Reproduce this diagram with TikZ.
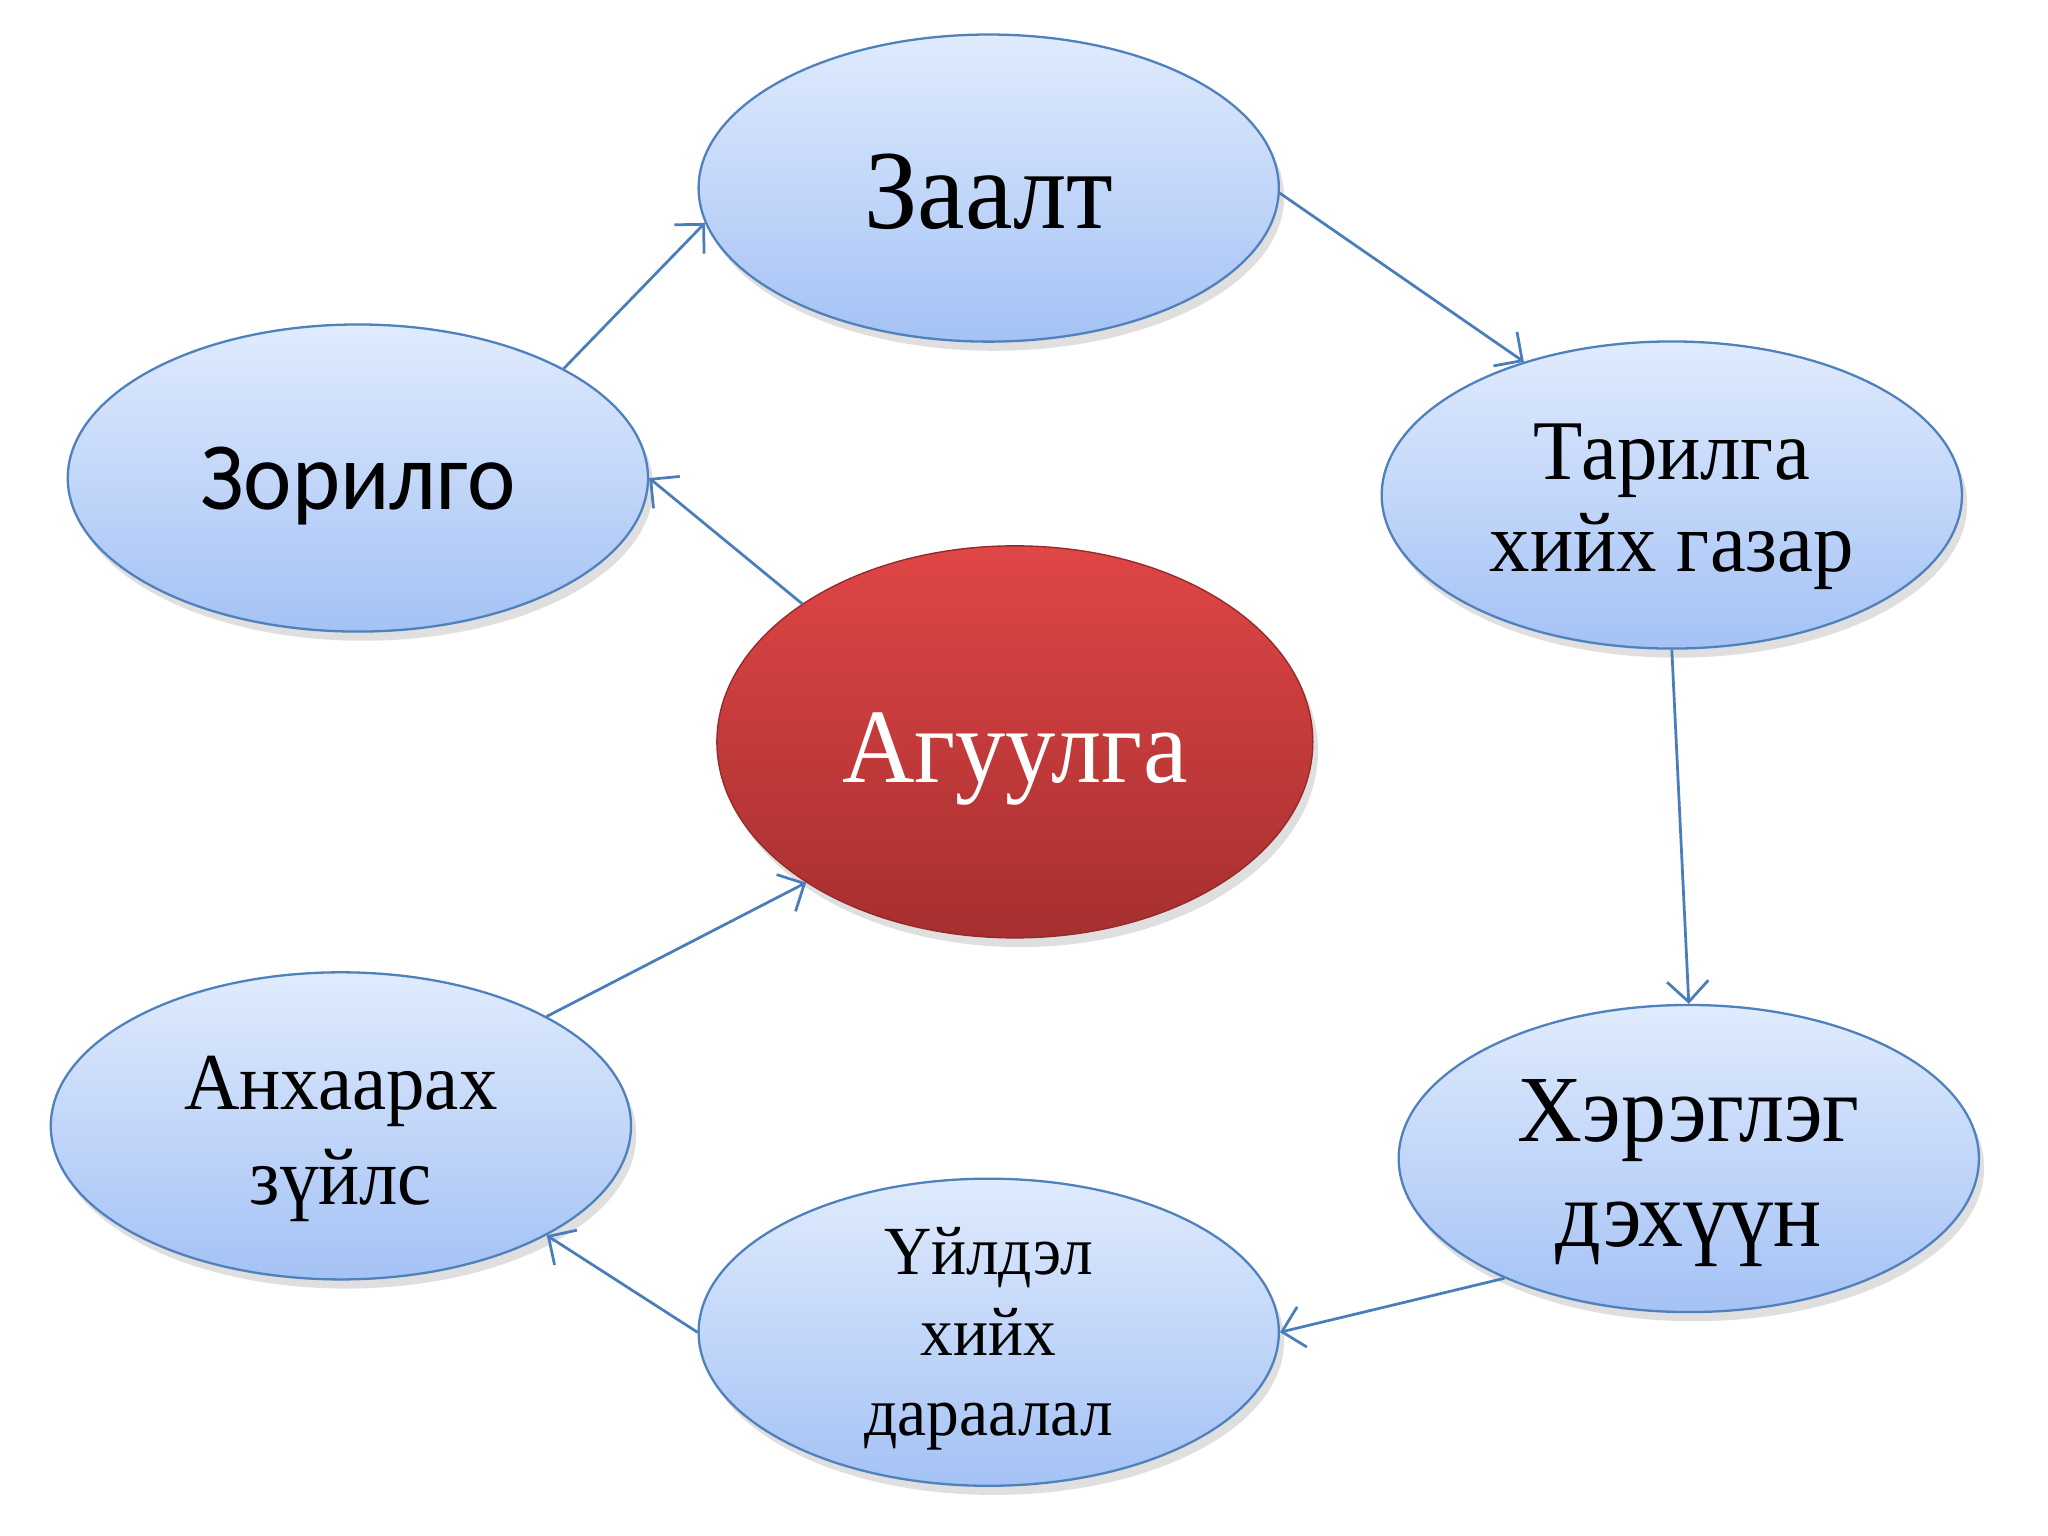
\documentclass[tikz,border=0pt]{standalone}
\usepackage{fontspec}
\setmainfont{Liberation Serif}[FakeStretch=0.95]
\newfontfamily\calibfont{Carlito}[FakeStretch=0.95]
\usetikzlibrary{shapes.geometric,arrows.meta,shadows}
\definecolor{bordblue}{HTML}{4F81BD}
\definecolor{topblue}{HTML}{E0EBFD}
\definecolor{botblue}{HTML}{A4C2F5}
\definecolor{arrblue}{HTML}{4A7EBB}
\definecolor{topred}{HTML}{E04646}
\definecolor{botred}{HTML}{A62F2F}
\tikzset{
  bluebub/.style={ellipse, inner sep=0pt, minimum width=4.44cm, minimum height=2.35cm,
    draw=bordblue, line width=0.5pt, top color=topblue, bottom color=botblue,
    drop shadow={opacity=0.25, shadow xshift=0.04cm, shadow yshift=-0.07cm}},
  redbub/.style={ellipse, inner sep=0pt, minimum width=4.56cm, minimum height=3.0cm,
    draw=botred!90!black, line width=0.3pt, top color=topred, bottom color=botred,
    drop shadow={opacity=0.25, shadow xshift=0.04cm, shadow yshift=-0.07cm}},
  bubtext/.style={inner sep=0pt, align=center, text=black},
  conn/.style={draw=arrblue, line width=0.6pt, -{Straight Barb[length=4.5pt,width=9pt]}}
}
\begin{document}
\begin{tikzpicture}[x=0.01cm,y=-0.01cm]
\fill[white] (0,0) rectangle (1568,1176);
\useasboundingbox (0,0) rectangle (1568,1176);
\node[bluebub] (zaa) at (757,144) {};
\node[bluebub] (zor) at (274,366) {};
\node[bluebub] (tar) at (1280,379) {};
\node[redbub] (agu) at (777,568) {};
\node[bluebub] (her) at (1293,887) {};
\node[bluebub] (uil) at (757,1020) {};
\node[bluebub] (anh) at (261,862) {};
\node[bubtext, font=\fontsize{24.5}{28}\selectfont] (zaat) at ([yshift=-0.03cm]zaa.center) {Заалт};
\node[bubtext, font=\calibfont\fontsize{21}{24}\selectfont] (zort) at ([yshift=-0.06cm]zor.center) {Зорилго};
\node[bubtext, font=\fontsize{18.5}{20}\selectfont] (tart) at ([yshift=-0.09cm]tar.center) {Тарилга\\хийх газар};
\node[bubtext, text=white, font=\fontsize{23}{26}\selectfont] (agut) at ([yshift=-0.13cm]agu.center) {Агуулга};
\node[bubtext, font=\fontsize{20.6}{22.8}\selectfont] (hert) at ([yshift=-0.11cm]her.center) {Хэрэглэг\\дэхүүн};
\node[bubtext, font=\fontsize{15}{17.6}\selectfont] (uilt) at ([yshift=-0.05cm]uil.center) {Үйлдэл\\хийх\\дараалал};
\node[bubtext, font=\fontsize{17.6}{20.5}\selectfont] (anht) at ([yshift=-0.10cm]anh.center) {Анхаарах\\зүйлс};
\draw[conn] (agu.147) -- (zor.east);
\draw[conn] (zor.28) -- (zaa.187);
\draw[conn] (zaa.359) -- (tar.138);
\draw[conn] (tar.south) -- (her.north);
\draw[conn] (her.213) -- (uil.east);
\draw[conn] (uil.west) -- (anh.332);
\draw[conn] (anh.28) -- (agu.214);
\end{tikzpicture}
\end{document}
